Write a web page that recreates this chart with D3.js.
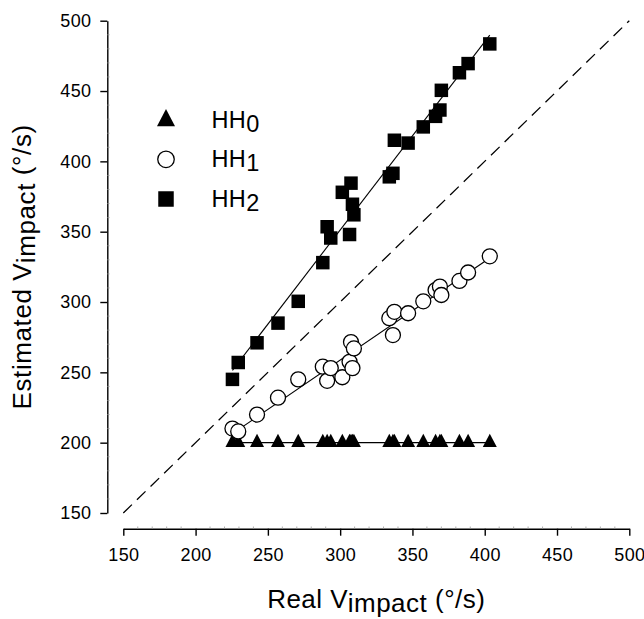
<!DOCTYPE html>
<html>
<head>
<meta charset="utf-8">
<script src="https://cdn.jsdelivr.net/npm/d3@7"></script>
<style>
  html, body { margin: 0; padding: 0; background: #fff; }
  svg { display: block; font-family: "Liberation Sans", Arial, Helvetica, sans-serif; }
</style>
</head>
<body>
<svg id="chart" width="644" height="619"></svg>
<script>
// Real impact velocity of each trial (°/s), shared by all three conditions
const realV = [225.5, 229.5, 242.5, 257, 271, 288, 291, 293.5, 301.5, 306.5, 307.5, 308.5,
               309.5, 334, 336.5, 337.5, 347, 357.5, 366, 369, 370, 382.5, 388.5, 403.5];

// Estimated impact velocity (°/s) for each condition
const hh0 = [200, 200, 200, 200, 200, 200, 200, 200, 200, 200, 200, 200,
             200, 200, 200, 200, 200, 200, 200, 200, 200, 200, 200, 200];
const hh1 = [210, 208, 220, 232, 245, 254, 244, 253, 246.5, 257.5, 271.5, 253,
             267, 288.5, 276.5, 293, 292, 300.5, 308.5, 311, 305, 315, 321, 332.5];
const hh2 = [245, 257, 271, 285, 300.5, 328, 353.5, 345.5, 378, 348, 384.5, 369.5,
             362, 389, 391.5, 415, 413, 424.5, 432, 436.5, 450.5, 463, 469.5, 483.5];

const seriesNames = ["HH0", "HH1", "HH2"];
const seriesSubs = ["0", "1", "2"];
const markerKinds = ["triangle", "circle", "square"];

const xTicks = [150, 200, 250, 300, 350, 400, 450, 500];
const yTicks = [150, 200, 250, 300, 350, 400, 450, 500];
const xDomain = [150, 500];
const yDomain = [150, 500];

const svg = d3.select("#chart");

const x = d3.scaleLinear().domain(xDomain).range([123.3, 629.3]);
const y = d3.scaleLinear().domain(yDomain).range([513, 20.7]);

// Marker shapes
function markerPath(kind, size) {
  const p = d3.path();
  if (kind === "triangle") {
    const w = size, h = size * 0.95;
    p.moveTo(0, -h * 2 / 3); p.lineTo(w / 2, h / 3); p.lineTo(-w / 2, h / 3); p.closePath();
  } else if (kind === "square") {
    const s = size / 2;
    p.rect(-s, -s, size, size);
  } else {
    p.arc(0, 0, size / 2, 0, Math.PI * 2); p.closePath();
  }
  return p.toString();
}
function markerStyle(sel, kind) {
  if (kind === "circle") sel.attr("fill", "#fff").attr("stroke", "#000").attr("stroke-width", 1.3);
  else sel.attr("fill", "#000").attr("stroke", "none");
}

// Axes
const yAxis = d3.axisLeft(y).tickValues(yTicks).tickSize(7).tickSizeOuter(0).tickPadding(9);
const gy = svg.append("g").attr("transform", "translate(107.3,0)").call(yAxis);
const xAxis = d3.axisBottom(x).tickValues(xTicks).tickSize(7).tickSizeOuter(0).tickPadding(13);
const gx = svg.append("g").attr("transform", "translate(0,528.7)").call(xAxis);
[gx, gy].forEach(g => {
  g.select(".domain").attr("stroke", "#000").attr("stroke-width", 1.4);
  g.selectAll(".tick line").attr("stroke", "#000").attr("stroke-width", 1.4);
  g.selectAll(".tick text").attr("font-size", 18).attr("fill", "#000")
    .attr("letter-spacing", 0.3)
    .attr("font-family", "'Liberation Sans', Arial, sans-serif");
});

// Faint minor ticks on the inner side of both axes
const minor = d3.range(150, 501, 10).filter(v => v % 50 !== 0);
svg.append("g").selectAll("line").data(minor).join("line")
  .attr("x1", d => x(d)).attr("x2", d => x(d))
  .attr("y1", 528.7).attr("y2", 526.5)
  .attr("stroke", "#999").attr("stroke-width", 0.8);
svg.append("g").selectAll("line").data(minor).join("line")
  .attr("y1", d => y(d)).attr("y2", d => y(d))
  .attr("x1", 107.3).attr("x2", 109.5)
  .attr("stroke", "#999").attr("stroke-width", 0.8);

// Identity line
svg.append("line")
  .attr("x1", x(150)).attr("y1", y(150))
  .attr("x2", x(500)).attr("y2", y(500))
  .attr("stroke", "#000").attr("stroke-width", 1.3)
  .attr("stroke-dasharray", "12,7");

// Least-squares fit for each condition
function fit(xs, ys) {
  const mx = d3.mean(xs), my = d3.mean(ys);
  let sxy = 0, sxx = 0;
  xs.forEach((v, i) => { sxy += (v - mx) * (ys[i] - my); sxx += (v - mx) * (v - mx); });
  const b = sxy / sxx;
  return { b, a: my - b * mx };
}
const allSeries = [hh0, hh1, hh2];
const xMin = d3.min(realV), xMax = d3.max(realV);
allSeries.forEach(s => {
  const f = fit(realV, s);
  svg.append("line")
    .attr("x1", x(xMin)).attr("y1", y(f.a + f.b * xMin))
    .attr("x2", x(xMax)).attr("y2", y(f.a + f.b * xMax))
    .attr("stroke", "#000").attr("stroke-width", 1.1);
});

// Data markers
const markerSizes = [14, 15, 13.5];
allSeries.forEach((s, k) => {
  const g = svg.append("g");
  realV.forEach((v, i) => {
    const m = g.append("path")
      .attr("d", markerPath(markerKinds[k], markerSizes[k]))
      .attr("transform", `translate(${x(v)},${y(s[i])})`);
    markerStyle(m, markerKinds[k]);
  });
});

// Legend
const legendY = [120.5, 159.3, 199];
const legendMarkerSizes = [18, 16.5, 15.5];
seriesNames.forEach((name, k) => {
  const m = svg.append("path")
    .attr("d", markerPath(markerKinds[k], legendMarkerSizes[k]))
    .attr("transform", `translate(166,${legendY[k]})`);
  markerStyle(m, markerKinds[k]);
  const t = svg.append("text")
    .attr("x", 211.5).attr("y", legendY[k] + 7.8)
    .attr("font-size", 23.5).attr("letter-spacing", 0.4).attr("fill", "#000");
  t.append("tspan").text(name.slice(0, 2));
  t.append("tspan").attr("dy", 4).text(seriesSubs[k]);
});

// Axis titles
const xt = svg.append("text")
  .attr("x", x(325)).attr("y", 608)
  .attr("text-anchor", "middle").attr("font-size", 26).attr("letter-spacing", 0.5).attr("fill", "#000");
xt.append("tspan").text("Real V");
xt.append("tspan").attr("dy", 4).text("impact");
xt.append("tspan").attr("dy", -4).text(" (°/s)");

const yt = svg.append("text")
  .attr("transform", `translate(31,${y(325)}) rotate(-90)`)
  .attr("text-anchor", "middle").attr("font-size", 26).attr("letter-spacing", 0.6).attr("fill", "#000");
yt.append("tspan").text("Estimated V");
yt.append("tspan").attr("dy", 4).text("impact");
yt.append("tspan").attr("dy", -4).text(" (°/s)");
</script>
</body>
</html>
